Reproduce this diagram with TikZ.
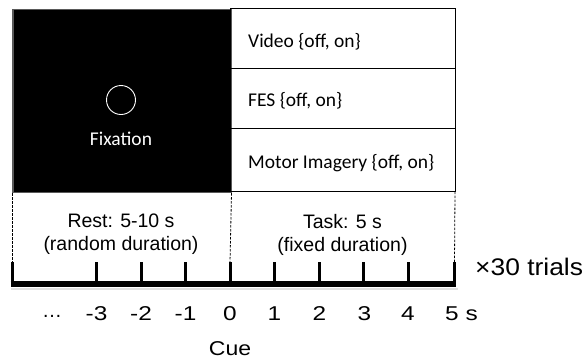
\documentclass[tikz,border=0pt]{standalone}
\usepackage{fontspec}
\usepackage{graphicx}
\setmainfont{Liberation Sans}
\newfontfamily\condfont{Carlito}
% axis lettering is set slightly wide
\newcommand{\widetext}[2][1.22]{\scalebox{#1}[1]{#2}}
\begin{document}
\begin{tikzpicture}[x=1pt, y=-1pt,
  panel/.style={draw=black, line width=1pt, minimum width=225pt, inner sep=0pt, outer sep=0pt, anchor=north west},
  condlabel/.style={font=\condfont\fontsize{19.5}{23}\selectfont, anchor=west, inner sep=0pt},
  phase/.style={font=\fontsize{19.5}{23}\selectfont, align=center, inner sep=0pt},
  ticklabel/.style={font=\fontsize{20}{23}\selectfont, inner sep=0pt},
  tickmark/.style={line width=3pt},
  guide/.style={line width=0.8pt, dash pattern=on 2.5pt off 1.5pt},
]
\useasboundingbox (0,0) rectangle (585,360);

% fixation screen
\node[fill=black, draw=black!65, line width=1.5pt, minimum width=218pt, minimum height=183pt,
      inner sep=0pt, anchor=north west] (fixbox) at (12,8.5) {};
\node[draw=white, line width=0.9pt, circle, minimum size=29pt, inner sep=0pt] (fixdot) at (121,100) {};
\node[font=\condfont\fontsize{19.5}{23}\selectfont, text=white, inner sep=0pt] (fixlabel) at (121,138.5) {Fixation};

% task conditions
\node[panel, minimum height=60pt] (video) at (230,8.5) {};
\node[panel, minimum height=60pt] (fes) at (230,68.5) {};
\node[panel, minimum height=63pt] (mi) at (230,128.5) {};
\node[condlabel] (videolabel) at (248,41.5) {Video \{off, on\}};
\node[condlabel] (feslabel) at (248,101) {FES \{off, on\}};
\node[condlabel] (milabel) at (248,163) {Motor Imagery \{off, on\}};

% time axis ticks: top end (t...) and foot on the axis
\foreach \name/\x in {start/12, m3/96.5, m2/141, m1/185.5, zero/230, p1/274.5, p2/319, p3/363.5, p4/408, p5/454.5} {
  \coordinate (t\name) at (\x,262);
  \coordinate (\name) at (\x,284);
}
\foreach \name in {start, m3, m2, m1, zero, p1, p2, p3, p4, p5}
  \draw[tickmark] (t\name) -- (\name);

% axis line with soft shadow
\draw[line width=2pt, black!12] (10.5,288.5) -- (458,288.5);
\draw[line width=5.5pt] ([xshift=-1.5pt]start) -- ([xshift=1.5pt]p5);

% phase boundaries
\draw[guide] (fixbox.south west) -- (tstart);
\draw[guide] (fixbox.south east) -- (tzero);
\draw[guide] (mi.south east) -- (tp5);

% phase labels
\node[phase] (rest) at (121,234.5) {Rest: 5-10 s\\(random duration)};
\node[phase] (task) at (342.5,234.5) {Task: 5 s\\(fixed duration)};
\node[font=\fontsize{24}{26}\selectfont, inner sep=0pt, anchor=west] (trials) at (475,267) {\widetext[1.1]{×30 trials}};

% tick labels
\node[ticklabel] (dots) at (52,316) {…};
\node[ticklabel] (lm3) at (96.5,314) {\widetext{-3}};
\node[ticklabel] (lm2) at (141,314) {\widetext{-2}};
\node[ticklabel] (lm1) at (185.5,314) {\widetext{-1}};
\node[ticklabel] (l0) at (230,314) {\widetext{0}};
\node[ticklabel] (l1) at (274.5,314) {\widetext{1}};
\node[ticklabel] (l2) at (319.5,314) {\widetext{2}};
\node[ticklabel] (l3) at (364.5,314) {\widetext{3}};
\node[ticklabel] (l4) at (408,314) {\widetext{4}};
\node[ticklabel, anchor=west] (l5) at (445,314) {\widetext{5 s}};
\node[ticklabel] (cue) at (230,349) {\widetext[1.15]{Cue}};
\end{tikzpicture}
\end{document}
